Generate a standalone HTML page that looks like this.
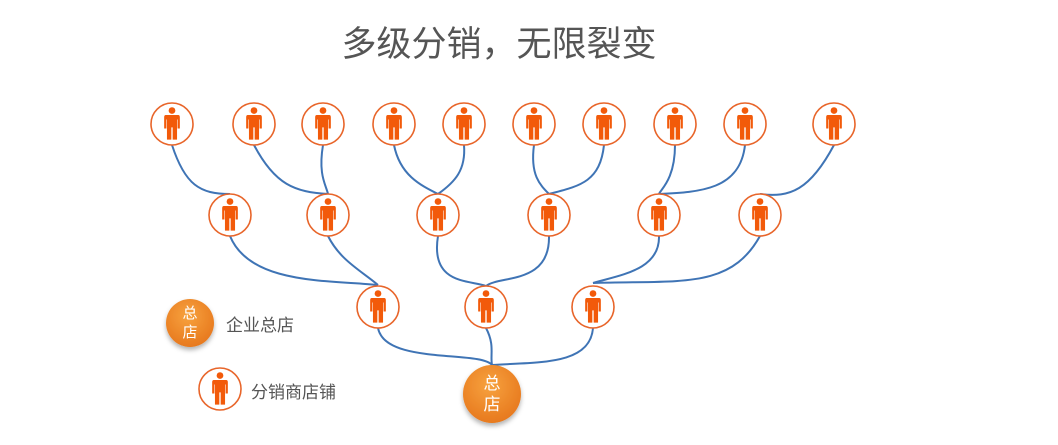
<!DOCTYPE html>
<html><head><meta charset="utf-8"><style>
html,body{margin:0;padding:0;background:#fff;width:1058px;height:445px;overflow:hidden}
svg{display:block}
</style></head><body>
<svg width="1058" height="445" viewBox="0 0 1058 445" xmlns="http://www.w3.org/2000/svg">
<defs>
<g id="p">
<circle r="21" fill="#fff" stroke="#e8652a" stroke-width="1.6"/>
<g transform="scale(1.12)">
<circle cx="0" cy="-12" r="3" fill="#f25a0a"/>
<path d="M-5.5,-8 H5.5 Q7,-8 7,-6 V4 H5 V-4 H4.5 V14 H0.6 V3 H-0.6 V14 H-4.5 V-4 H-5 V4 H-7 V-6 Q-7,-8 -5.5,-8 Z" fill="#f25a0a"/>
</g>
</g>
<radialGradient id="g" cx="0.45" cy="0.35" r="0.7">
<stop offset="0" stop-color="#f7a23e"/><stop offset="1" stop-color="#e6761c"/>
</radialGradient>
<filter id="s" x="-30%" y="-30%" width="160%" height="170%"><feDropShadow dx="0" dy="3" stdDeviation="2.5" flood-color="#000" flood-opacity="0.3"/></filter>
</defs>
<text x="499" y="56" text-anchor="middle" font-family="Liberation Sans,'Noto Sans CJK SC',sans-serif" font-size="35" fill="#555">多级分销，无限裂变</text>
<g fill="none" stroke="#3f74b5" stroke-width="2">
<path d="M172,145 C185,185 200,194 230,194"/>
<path d="M254,145 C275,185 295,192 328,194"/>
<path d="M323,145 C318,175 326,185 328,194"/>
<path d="M394,145 C400,175 420,185 438,194"/>
<path d="M464,145 C466,170 455,182 438,194"/>
<path d="M534,145 C530,175 540,185 549,194"/>
<path d="M604,145 C600,182 580,186 549,194"/>
<path d="M675,145 C675,180 660,190 659,194"/>
<path d="M745,145 C740,190 700,192 659,194"/>
<path d="M834,145 C810,190 790,198 760,194"/>
<path d="M230,236 C250,285 330,280 378,285"/>
<path d="M328,236 C340,260 360,270 378,285"/>
<path d="M438,236 C430,285 470,280 486,286"/>
<path d="M549,236 C550,285 500,275 486,286"/>
<path d="M659,236 C660,270 620,275 593,283"/>
<path d="M760,236 C730,290 680,280 593,283"/>
<path d="M378,328 C385,365 480,350 492,365"/>
<path d="M486,328 C495,345 490,355 492,365"/>
<path d="M593,328 C590,365 540,362 492,365"/>
</g>
<use href="#p" x="172" y="124"/><use href="#p" x="254" y="124"/><use href="#p" x="323" y="124"/>
<use href="#p" x="394" y="124"/><use href="#p" x="464" y="124"/><use href="#p" x="534" y="124"/>
<use href="#p" x="604" y="124"/><use href="#p" x="675" y="124"/><use href="#p" x="745" y="124"/>
<use href="#p" x="834" y="124"/>
<use href="#p" x="230" y="215"/><use href="#p" x="328" y="215"/><use href="#p" x="438" y="215"/>
<use href="#p" x="549" y="215"/><use href="#p" x="659" y="215"/><use href="#p" x="760" y="215"/>
<use href="#p" x="378" y="307"/><use href="#p" x="486" y="307"/><use href="#p" x="593" y="307"/>
<use href="#p" x="220" y="389"/>
<g font-family="Liberation Sans,'Noto Sans CJK SC',sans-serif">
<circle cx="492" cy="394" r="29" fill="url(#g)" filter="url(#s)"/>
<text x="492" y="389" text-anchor="middle" font-size="17" fill="#fff">总</text>
<text x="492" y="410" text-anchor="middle" font-size="17" fill="#fff">店</text>
<circle cx="190" cy="323" r="24" fill="url(#g)" filter="url(#s)"/>
<text x="190" y="318" text-anchor="middle" font-size="15" fill="#fff">总</text>
<text x="190" y="337" text-anchor="middle" font-size="15" fill="#fff">店</text>
<text x="226" y="331" font-size="17" fill="#555">企业总店</text>
<text x="251" y="398" font-size="17" fill="#555">分销商店铺</text>
</g>
</svg>
</body></html>
